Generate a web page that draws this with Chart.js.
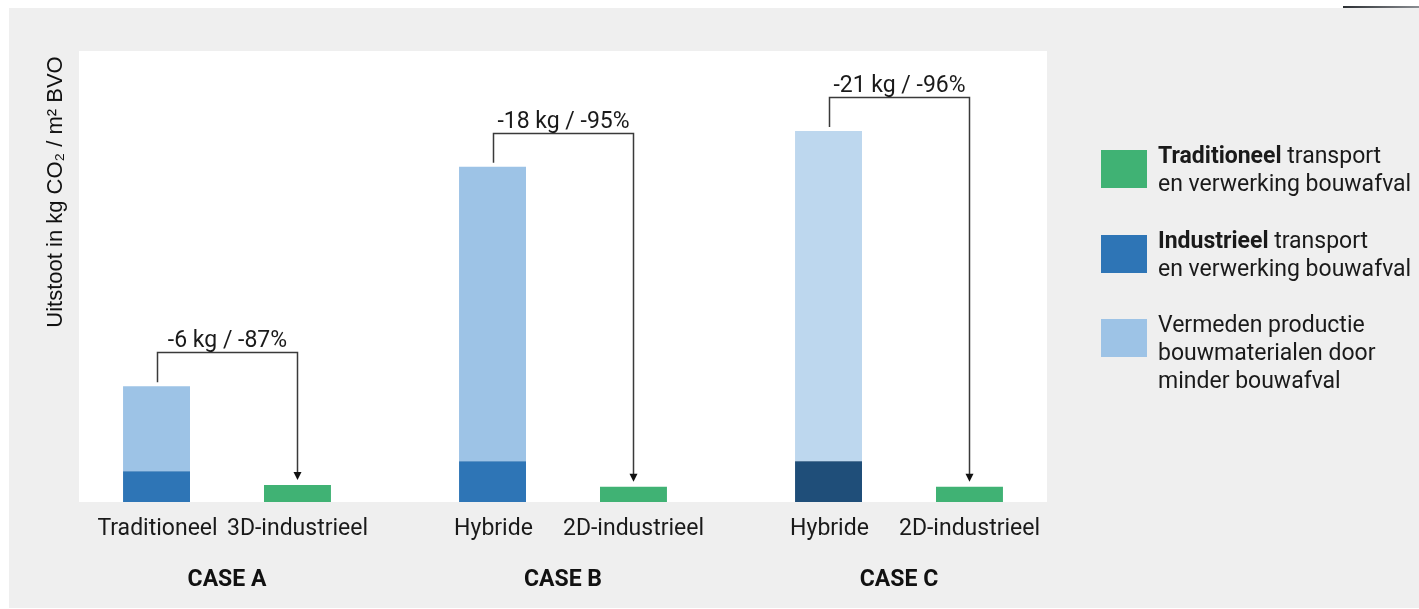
<!DOCTYPE html>
<html>
<head>
<meta charset="utf-8">
<script src="https://cdn.jsdelivr.net/npm/chart.js@4/dist/chart.umd.min.js"></script>
<style>
  html, body { margin: 0; padding: 0; background: #fff; }
  #wrap { position: relative; width: 1419px; height: 609px; overflow: hidden; font-family: Roboto, sans-serif; color: #1a1a1a; }
  #panel { position: absolute; left: 9px; top: 8px; width: 1410px; height: 600px; background: #efefef; }
  #plotbg { position: absolute; left: 79px; top: 51px; width: 968px; height: 451px; background: #fff; }
  #corner { position: absolute; left: 1343px; top: 6px; width: 76px; height: 2px; background: linear-gradient(to right, #2b2f33, #8a8d92); }
  #chart { position: absolute; left: 0; top: 0; }
  #ytitle { position: absolute; left: -90px; top: 180px; width: 290px; height: 24px; line-height: 24px; text-align: center;
            white-space: nowrap; font-family: "Liberation Sans", Arial, sans-serif; font-size: 22px; color: #111;
            transform: rotate(-90deg); transform-origin: 50% 50%; }
  .item { position: absolute; left: 1101px; }
  .swatch { position: absolute; left: 0; width: 46px; height: 38px; }
  .txt { position: absolute; left: 57px; width: 300px; font-size: 23px; line-height: 28px; color: #1a1a1a; white-space: nowrap; }
  .txt b { font-weight: 700; }
</style>
</head>
<body>
<div id="wrap">
  <div id="panel"></div>
  <div id="corner"></div>
  <div id="plotbg"></div>
  <canvas id="chart" width="1419" height="609"></canvas>
  <div id="ytitle">Uitstoot in kg CO₂ / m² BVO</div>
  <div id="legend"></div>
</div>
<script>
// Cases and the two variants compared within each case
const cases = ['CASE A', 'CASE B', 'CASE C'];
const variantLeft = ['Traditioneel', 'Hybride', 'Hybride'];
const variantRight = ['3D-industrieel', '2D-industrieel', '2D-industrieel'];

// Emissions in kg CO2 per m2 BVO
const industrieelTransport = [1.8, 2.4, 2.4];      // left bar, bottom segment
const vermedenProductie = [5.0, 17.3, 19.4];       // left bar, top segment
const traditioneelTransport = [1.0, 0.9, 0.9];     // right bar

// Reduction labels above each case
const reducties = ['-6 kg / -87%', '-18 kg / -95%', '-21 kg / -96%'];

// Colours
const groen = '#40b274';
const blauwDonker = ['#2e75b6', '#2e75b6', '#1f4e79'];
const blauwLicht = ['#9dc3e6', '#9dc3e6', '#bdd7ee'];

// Legend entries: bold part plus the remaining text lines
const legendItems = [
  { color: groen, bold: 'Traditioneel', lines: [' transport', 'en verwerking bouwafval'] },
  { color: blauwDonker[0], bold: 'Industrieel', lines: [' transport', 'en verwerking bouwafval'] },
  { color: blauwLicht[0], bold: '', lines: ['Vermeden productie', 'bouwmaterialen door', 'minder bouwafval'] }
];

const legendTops = [150, 235, 319];
const legendEl = document.getElementById('legend');
legendItems.forEach((it, i) => {
  const d = document.createElement('div');
  d.className = 'item';
  d.style.top = legendTops[i] + 'px';
  const sw = document.createElement('div');
  sw.className = 'swatch';
  sw.style.background = it.color;
  d.appendChild(sw);
  const t = document.createElement('div');
  t.className = 'txt';
  t.style.top = '-8px';
  if (it.bold) {
    t.innerHTML = '<b>' + it.bold + '</b>' + it.lines[0] + '<br>' + it.lines.slice(1).join('<br>');
  } else {
    t.innerHTML = it.lines.join('<br>');
  }
  d.appendChild(t);
  legendEl.appendChild(d);
});

// Draws variant names under each bar and the reduction brackets with arrows
const annotations = {
  id: 'annotations',
  afterDatasetsDraw(chart) {
    const ctx = chart.ctx;
    const top = chart.getDatasetMeta(1).data;
    const right = chart.getDatasetMeta(2).data;
    const bottom = chart.chartArea.bottom;
    ctx.save();
    ctx.font = '23px Roboto';
    ctx.textAlign = 'center';
    ctx.textBaseline = 'alphabetic';
    for (let i = 0; i < cases.length; i++) {
      const xL = Math.round(top[i].x) + 0.5, yL = top[i].y;
      const xR = Math.round(right[i].x) + 0.5, yR = right[i].y;
      ctx.fillStyle = '#1a1a1a';
      ctx.fillText(variantLeft[i], xL, bottom + 33);
      ctx.fillText(variantRight[i], xR, bottom + 33);

      const lineY = Math.round(yL - 34) + 0.5;
      const tipY = yR - 5;
      ctx.strokeStyle = '#3a3a3a';
      ctx.lineWidth = 1.5;
      ctx.beginPath();
      ctx.moveTo(xL, yL - 4);
      ctx.lineTo(xL, lineY);
      ctx.lineTo(xR, lineY);
      ctx.lineTo(xR, tipY - 6);
      ctx.stroke();
      ctx.fillStyle = '#111';
      ctx.beginPath();
      ctx.moveTo(xR, tipY);
      ctx.lineTo(xR - 4, tipY - 8);
      ctx.lineTo(xR + 4, tipY - 8);
      ctx.closePath();
      ctx.fill();
      ctx.fillStyle = '#1a1a1a';
      ctx.fillText(reducties[i], (xL + xR) / 2, lineY - 6);
    }
    ctx.restore();
  }
};

new Chart(document.getElementById('chart'), {
  type: 'bar',
  data: {
    labels: cases,
    datasets: [
      { label: 'Industrieel transport en verwerking bouwafval', data: industrieelTransport, stack: 'links', backgroundColor: blauwDonker },
      { label: 'Vermeden productie bouwmaterialen door minder bouwafval', data: vermedenProductie, stack: 'links', backgroundColor: blauwLicht },
      { label: 'Traditioneel transport en verwerking bouwafval', data: traditioneelTransport, stack: 'rechts', backgroundColor: groen }
    ]
  },
  options: {
    responsive: false,
    animation: false,
    categoryPercentage: 0.839,
    barPercentage: 0.475,
    borderWidth: 0,
    layout: { padding: { left: 59, right: 352, top: 51, bottom: 7 } },
    plugins: { legend: { display: false }, tooltip: { enabled: false } },
    scales: {
      x: {
        stacked: true,
        grid: { display: false, drawTicks: false },
        border: { display: false },
        ticks: { font: { family: 'Roboto', size: 23, weight: 'bold' }, color: '#111', padding: 64 },
        afterFit(scale) { scale.height = 100; }
      },
      y: {
        stacked: true,
        display: false,
        min: 0,
        max: 26.5
      }
    }
  },
  plugins: [annotations]
});
</script>
</body>
</html>
